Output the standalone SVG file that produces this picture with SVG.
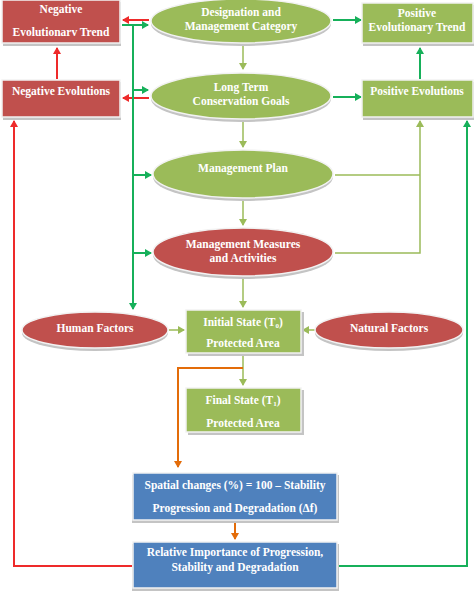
<svg xmlns="http://www.w3.org/2000/svg" width="474" height="594" viewBox="0 0 474 594">
<defs>
<style>
.t{font-family:"Liberation Serif","Times New Roman",serif;font-weight:bold;font-size:11.5px;fill:#ffffff;text-anchor:middle}
.sh{fill:#c4c4c4}
.red{fill:#c0504d;stroke:#f2f2f2;stroke-width:1.5}
.grn{fill:#9bbb59;stroke:#f2f2f2;stroke-width:1.5}
.blu{fill:#4f81bd;stroke:#f2f2f2;stroke-width:1.5}
.cr{stroke:#ee2a2a;stroke-width:2;fill:none}
.cg{stroke:#16b05a;stroke-width:2;fill:none}
.co{stroke:#9bbb59;stroke-width:1.5;fill:none}
.cor{stroke:#e36c09;stroke-width:2;fill:none}
</style>
<marker id="ar" markerWidth="8" markerHeight="8" refX="6" refY="4" orient="auto" markerUnits="userSpaceOnUse"><path d="M0,0L7,4L0,8z" fill="#ee2a2a"/></marker>
<marker id="ag" markerWidth="8" markerHeight="8" refX="6" refY="4" orient="auto" markerUnits="userSpaceOnUse"><path d="M0,0L7,4L0,8z" fill="#16b05a"/></marker>
<marker id="ao" markerWidth="8" markerHeight="8" refX="6" refY="4" orient="auto" markerUnits="userSpaceOnUse"><path d="M0,0L7,4L0,8z" fill="#9bbb59"/></marker>
<marker id="aor" markerWidth="8" markerHeight="8" refX="6" refY="4" orient="auto" markerUnits="userSpaceOnUse"><path d="M0,0L7,4L0,8z" fill="#e36c09"/></marker>
</defs>
<rect width="474" height="594" fill="#ffffff"/>

<g id="connectors">
<line class="cr" x1="149" y1="20" x2="123" y2="20" marker-end="url(#ar)"/>
<line class="cr" x1="149" y1="98" x2="123" y2="98" marker-end="url(#ar)"/>
<line class="cr" x1="57" y1="79" x2="57" y2="48" marker-end="url(#ar)"/>
<polyline class="cr" points="133,566 14,566 14,121" marker-end="url(#ar)"/>
<line class="cg" x1="133" y1="25" x2="133" y2="309" marker-end="url(#ag)"/>
<line class="cg" x1="122" y1="25" x2="148" y2="25" marker-end="url(#ag)"/>
<line class="cg" x1="133" y1="90" x2="148" y2="90" marker-end="url(#ag)"/>
<line class="cg" x1="133" y1="175" x2="151" y2="175" marker-end="url(#ag)"/>
<line class="cg" x1="133" y1="253" x2="151" y2="253" marker-end="url(#ag)"/>
<line class="cg" x1="333" y1="20" x2="361" y2="20" marker-end="url(#ag)"/>
<line class="cg" x1="333" y1="97" x2="361" y2="97" marker-end="url(#ag)"/>
<line class="cg" x1="420" y1="79" x2="420" y2="48" marker-end="url(#ag)"/>
<polyline class="cg" points="337,566 467,566 467,121" marker-end="url(#ag)"/>
<line class="co" x1="243" y1="44" x2="243" y2="69" marker-end="url(#ao)"/>
<line class="co" x1="243" y1="121" x2="243" y2="147" marker-end="url(#ao)"/>
<line class="co" x1="243" y1="199" x2="243" y2="225" marker-end="url(#ao)"/>
<line class="co" x1="243" y1="277" x2="243" y2="307" marker-end="url(#ao)"/>
<line class="co" x1="243" y1="354" x2="243" y2="385" marker-end="url(#ao)"/>
<line class="co" x1="169" y1="330" x2="184" y2="330" marker-end="url(#ao)"/>
<line class="co" x1="315" y1="330" x2="303" y2="330" marker-end="url(#ao)"/>
<polyline class="co" points="335,175 420,175"/>
<polyline class="co" points="335,253 420,253 420,121" marker-end="url(#ao)"/>
<polyline class="cor" points="243,368 178,368 178,467" marker-end="url(#aor)"/>
<line class="cor" x1="235" y1="521" x2="235" y2="539" marker-end="url(#aor)"/>
</g>

<g id="neg-trend">
<rect class="sh" x="3" y="2" width="118" height="44"/>
<rect class="red" x="2" y="0" width="118" height="43"/>
<text class="t" x="61" y="13">Negative</text>
<text class="t" x="61" y="36">Evolutionarv Trend</text>
</g>
<g id="designation">
<ellipse class="sh" cx="241" cy="24" rx="90" ry="22"/>
<ellipse class="grn" cx="241" cy="21" rx="90" ry="22"/>
<text class="t" x="241" y="16">Designation and</text>
<text class="t" x="241" y="30">Management Category</text>
</g>
<g id="pos-trend">
<rect class="sh" x="363" y="5" width="111" height="41"/>
<rect class="grn" x="362" y="3" width="111" height="40"/>
<text class="t" x="417" y="17">Positive</text>
<text class="t" x="417" y="31">Evolutionary Trend</text>
</g>
<g id="neg-evol">
<rect class="sh" x="3" y="82" width="118" height="38"/>
<rect class="red" x="2" y="80" width="118" height="37"/>
<text class="t" x="61" y="95">Negative Evolutions</text>
</g>
<g id="long-term">
<ellipse class="sh" cx="241" cy="99" rx="90" ry="23"/>
<ellipse class="grn" cx="241" cy="96" rx="90" ry="23"/>
<text class="t" x="241" y="91">Long Term</text>
<text class="t" x="241" y="105">Conservation Goals</text>
</g>
<g id="pos-evol">
<rect class="sh" x="363" y="82" width="111" height="38"/>
<rect class="grn" x="362" y="80" width="111" height="37"/>
<text class="t" x="417" y="95">Positive Evolutions</text>
</g>
<g id="mgmt-plan">
<ellipse class="sh" cx="243" cy="177" rx="90" ry="24"/>
<ellipse class="grn" cx="243" cy="174" rx="90" ry="24"/>
<text class="t" x="243" y="172">Management Plan</text>
</g>
<g id="mgmt-measures">
<ellipse class="sh" cx="243" cy="255" rx="90" ry="24"/>
<ellipse class="red" cx="243" cy="252" rx="90" ry="24"/>
<text class="t" x="243" y="248">Management Measures</text>
<text class="t" x="243" y="262">and  Activities</text>
</g>
<g id="human">
<ellipse class="sh" cx="95" cy="333" rx="73" ry="18"/>
<ellipse class="red" cx="95" cy="330" rx="73" ry="18"/>
<text class="t" x="95" y="332">Human Factors</text>
</g>
<g id="initial">
<rect class="sh" x="188" y="312" width="116" height="44"/>
<rect class="grn" x="186" y="310" width="115" height="43"/>
<text class="t" x="243" y="326">Initial State (T<tspan font-size="7" dy="2">0</tspan><tspan dy="-2">)</tspan></text>
<text class="t" x="243" y="347">Protected  Area</text>
</g>
<g id="natural">
<ellipse class="sh" cx="389" cy="333" rx="74" ry="18"/>
<ellipse class="red" cx="389" cy="330" rx="74" ry="18"/>
<text class="t" x="389" y="332">Natural Factors</text>
</g>
<g id="final">
<rect class="sh" x="188" y="390" width="116" height="45"/>
<rect class="grn" x="186" y="388" width="115" height="44"/>
<text class="t" x="243" y="404">Final State (T<tspan font-size="7" dy="2">1</tspan><tspan dy="-2">)</tspan></text>
<text class="t" x="243" y="427">Protected  Area</text>
</g>
<g id="spatial">
<rect class="sh" x="132" y="475" width="207" height="48"/>
<rect class="blu" x="133" y="473" width="204" height="47"/>
<text class="t" x="235" y="489">Spatial changes (%) = 100 – Stability</text>
<text class="t" x="235" y="512">Progression and Degradation (Δf)</text>
</g>
<g id="relative">
<rect class="sh" x="132" y="544" width="207" height="47"/>
<rect class="blu" x="133" y="542" width="204" height="46"/>
<text class="t" x="235" y="556">Relative Importance of Progression,</text>
<text class="t" x="235" y="571">Stability and Degradation</text>
</g>
</svg>
